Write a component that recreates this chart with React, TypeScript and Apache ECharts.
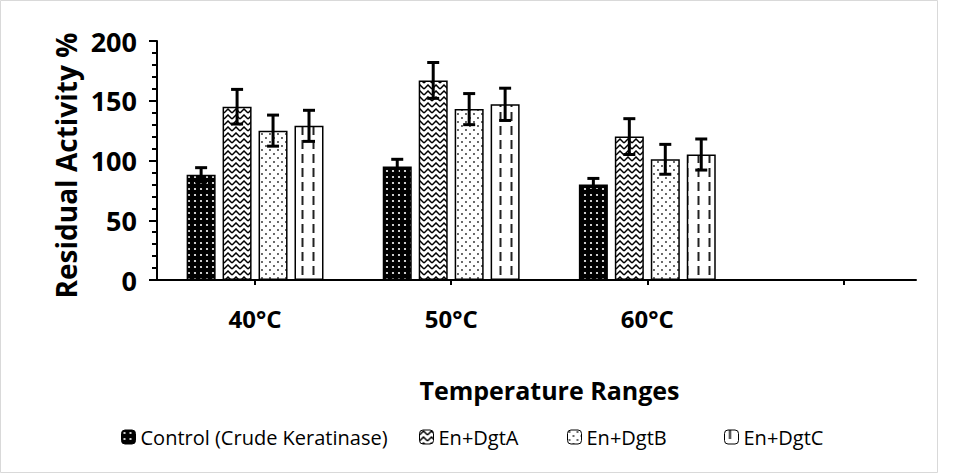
import React, { useEffect, useRef } from "react";
import * as echarts from "echarts";

const categories = ["40°C", "50°C", "60°C"];
const seriesNames = ["Control (Crude Keratinase)", "En+DgtA", "En+DgtB", "En+DgtC"];
const controlValues = [88, 95, 80];
const controlErrors = [6, 6, 5];
const dgtAValues = [145, 167, 120];
const dgtAErrors = [14.5, 15, 15];
const dgtBValues = [125, 143, 101];
const dgtBErrors = [13, 13, 12.5];
const dgtCValues = [129, 147, 105];
const dgtCErrors = [13, 13.5, 13];
const yTicks = { min: 0, max: 200, interval: 50 };

const allValues = [controlValues, dgtAValues, dgtBValues, dgtCValues];
const allErrors = [controlErrors, dgtAErrors, dgtBErrors, dgtCErrors];
const legendLefts = [116, 414, 562, 719];

function makePattern(w: number, h: number, draw: (ctx: CanvasRenderingContext2D) => void) {
  const c = document.createElement("canvas");
  c.width = w;
  c.height = h;
  const ctx = c.getContext("2d") as CanvasRenderingContext2D;
  draw(ctx);
  return { image: c, repeat: "repeat" };
}

export default function App() {
  const ref = useRef<HTMLDivElement>(null);
  useEffect(() => {
    if (!ref.current) return;
    const chart = echarts.init(ref.current, undefined, { renderer: "svg" });

    const pControl = makePattern(6, 6, (ctx) => {
      ctx.fillStyle = "#000";
      ctx.fillRect(0, 0, 6, 6);
      ctx.fillStyle = "#fff";
      ctx.beginPath();
      ctx.arc(3, 3, 1.1, 0, Math.PI * 2);
      ctx.fill();
    });
    const pA = makePattern(8, 6, (ctx) => {
      ctx.fillStyle = "#fff";
      ctx.fillRect(0, 0, 8, 6);
      ctx.strokeStyle = "#000";
      ctx.lineWidth = 1.5;
      ctx.beginPath();
      ctx.moveTo(0, 5);
      ctx.lineTo(4, 1);
      ctx.lineTo(8, 5);
      ctx.stroke();
    });
    const pB = makePattern(8, 8, (ctx) => {
      ctx.fillStyle = "#fff";
      ctx.fillRect(0, 0, 8, 8);
      ctx.fillStyle = "#222";
      ctx.beginPath();
      ctx.arc(2, 2, 0.9, 0, Math.PI * 2);
      ctx.arc(6, 6, 0.9, 0, Math.PI * 2);
      ctx.fill();
    });
    const pC = makePattern(11, 14, (ctx) => {
      ctx.fillStyle = "#fff";
      ctx.fillRect(0, 0, 11, 14);
      ctx.fillStyle = "#222";
      ctx.fillRect(4.5, 0, 2, 9);
    });
    const patterns = [pControl, pA, pB, pC];

    const barWidth = 29;
    const barGapRatio = 0.24;

    const barSeries = seriesNames.map((name, si) => ({
      name,
      type: "bar",
      barWidth,
      barGap: barGapRatio * 100 + "%",
      data: allValues[si].map((v, i) => [i + 0.5, v]),
      itemStyle: { color: patterns[si], borderColor: "#000", borderWidth: 1.5 },
    }));

    const errSeries = seriesNames.map((name, si) => ({
      name: name + " error",
      type: "custom",
      z: 5,
      data: allValues[si].map((v, i) => [i + 0.5, v, allErrors[si][i]]),
      renderItem: (params: any, api: any) => {
        const x = api.value(0);
        const y = api.value(1);
        const e = api.value(2);
        const top = api.coord([x, y + e]);
        const bot = api.coord([x, y - e]);
        const off = (si - 1.5) * barWidth * (1 + barGapRatio);
        const cx = top[0] + off;
        const hw = 6;
        const st = { stroke: "#000", lineWidth: 3 };
        return {
          type: "group",
          children: [
            { type: "line", shape: { x1: cx, y1: top[1], x2: cx, y2: bot[1] }, style: st },
            { type: "line", shape: { x1: cx - hw, y1: top[1], x2: cx + hw, y2: top[1] }, style: st },
            { type: "line", shape: { x1: cx - hw, y1: bot[1], x2: cx + hw, y2: bot[1] }, style: st },
          ],
        };
      },
    }));

    const font = "Open Sans";
    chart.setOption({
      animation: false,
      backgroundColor: "#fff",
      textStyle: { fontFamily: font },
      graphic: [
        {
          type: "rect",
          shape: { x: 0.5, y: 0.5, width: 937, height: 472 },
          style: { fill: "none", stroke: "#d9d9d9", lineWidth: 1 },
          silent: true,
        },
      ],
      grid: { left: 157, right: 39, top: 41, bottom: 194, containLabel: false },
      legend: seriesNames.map((name, i) => ({
        data: [name],
        left: legendLefts[i],
        top: 422,
        itemWidth: 14,
        itemHeight: 14,
        textStyle: { fontFamily: font, fontSize: 20, color: "#000" },
        itemStyle: { borderColor: "#000", borderWidth: 1 },
      })),
      xAxis: {
        type: "value",
        min: 0,
        max: 3.87,
        name: "Temperature Ranges",
        nameLocation: "middle",
        nameGap: 97,
        nameTextStyle: { fontFamily: font, fontSize: 25, fontWeight: "bold", color: "#000", padding: [0, 0, 0, 26] },
        splitLine: { show: false },
        axisLine: { show: true, onZero: true, lineStyle: { color: "#000", width: 2 } },
        axisTick: {
          show: true,
          length: 5,
          customValues: [0.5, 1.5, 2.5, 3.5],
          lineStyle: { color: "#000", width: 2 },
        },
        axisLabel: {
          customValues: categories.map((_, i) => i + 0.5),
          formatter: (v: number) => categories[Math.round(v - 0.5)] ?? "",
          margin: 26,
          fontFamily: font,
          fontSize: 24,
          fontWeight: "bold",
          color: "#000",
        },
      },
      yAxis: {
        type: "value",
        min: yTicks.min,
        max: yTicks.max,
        interval: yTicks.interval,
        name: "Residual Activity %",
        nameLocation: "middle",
        nameGap: 77,
        nameTextStyle: {
          fontFamily: font,
          fontSize: 28,
          fontWeight: "bold",
          color: "#000",
          padding: [0, 10, 0, 0],
        },
        splitLine: { show: false },
        axisLine: { show: true, lineStyle: { color: "#000", width: 2 } },
        axisTick: { show: true, length: 8, lineStyle: { color: "#000", width: 2 } },
        minorTick: { show: true, splitNumber: 5, length: 5, lineStyle: { color: "#000", width: 2 } },
        axisLabel: { margin: 20, fontFamily: font, fontSize: 27, fontWeight: "bold", color: "#000" },
      },
      series: [...barSeries, ...errSeries],
    });
    return () => chart.dispose();
  }, []);
  return <div ref={ref} style={{ position: "fixed", left: 0, top: 0, width: 955, height: 474 }} />;
}
